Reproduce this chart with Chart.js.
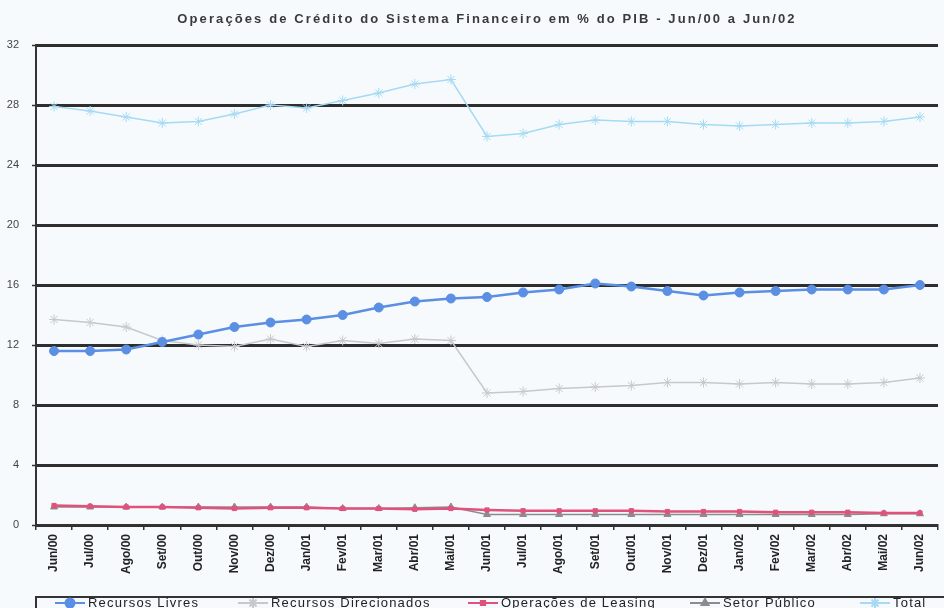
<!DOCTYPE html>
<html>
<head>
<meta charset="utf-8">
<script src="https://cdn.jsdelivr.net/npm/chart.js@4.4.0/dist/chart.umd.min.js"></script>
<style>
  html, body { margin: 0; padding: 0; background: #f6fafd; }
  #wrap { width: 944px; height: 608px; position: relative; }
</style>
</head>
<body>
<div id="wrap"><canvas id="chart"></canvas></div>
<script>
const labels = ['Jun/00','Jul/00','Ago/00','Set/00','Out/00','Nov/00','Dez/00','Jan/01','Fev/01','Mar/01','Abr/01','Mai/01',
                'Jun/01','Jul/01','Ago/01','Set/01','Out/01','Nov/01','Dez/01','Jan/02','Fev/02','Mar/02','Abr/02','Mai/02','Jun/02'];
const recursosLivres = [11.6,11.6,11.7,12.2,12.7,13.2,13.5,13.7,14.0,14.5,14.9,15.1,15.2,15.5,15.7,16.1,15.9,15.6,15.3,15.5,15.6,15.7,15.7,15.7,16.0];
const recursosDirecionados = [13.7,13.5,13.2,12.3,12.0,11.9,12.4,11.9,12.3,12.1,12.4,12.3,8.8,8.9,9.1,9.2,9.3,9.5,9.5,9.4,9.5,9.4,9.4,9.5,9.8];
const leasing = [1.3,1.25,1.2,1.2,1.15,1.1,1.15,1.15,1.1,1.1,1.05,1.1,1.0,0.95,0.95,0.95,0.95,0.9,0.9,0.9,0.85,0.85,0.85,0.8,0.8];
const setorPublico = [1.2,1.2,1.2,1.2,1.2,1.2,1.2,1.2,1.1,1.1,1.15,1.2,0.7,0.7,0.7,0.7,0.7,0.7,0.7,0.7,0.7,0.7,0.7,0.75,0.75];
const total = [27.9,27.6,27.2,26.8,26.9,27.4,28.0,27.8,28.3,28.8,29.4,29.7,25.9,26.1,26.7,27.0,26.9,26.9,26.7,26.6,26.7,26.8,26.8,26.9,27.2];
const yTicks = [0,4,8,12,16,20,24,28,32];
const title = 'Operações de Crédito do Sistema Financeiro em % do PIB - Jun/00 a Jun/02';

// title + boxed legend drawn by hand, like the scanned original
const decor = {
    id: 'decor',
    beforeDraw(chart) {
        const ctx = chart.ctx;
        ctx.save();
        ctx.fillStyle = '#f6fafd';
        ctx.fillRect(0, 0, chart.width, chart.height);
        ctx.restore();
    },
    afterDraw(chart) {
        const ctx = chart.ctx;
        const area = chart.chartArea;
        ctx.save();
        ctx.fillStyle = '#3a3a3a';
        ctx.font = 'bold 13px "Liberation Sans", Arial, sans-serif';
        ctx.letterSpacing = '2.1px';
        ctx.textAlign = 'center';
        ctx.textBaseline = 'middle';
        ctx.fillText(title, (area.left + area.right) / 2, 19);

        // legend box
        const top = 597;
        ctx.strokeStyle = '#333';
        ctx.lineWidth = 2;
        ctx.strokeRect(area.left, top, chart.width - area.left + 5, 30);

        const starts = [55, 238, 468, 690, 860];
        ctx.font = '13px "Liberation Sans", Arial, sans-serif';
        ctx.letterSpacing = '1.2px';
        ctx.textAlign = 'left';
        chart.data.datasets.forEach((ds, i) => {
            const x = starts[i], y = top + 6;
            ctx.strokeStyle = ds.borderColor;
            ctx.fillStyle = ds.pointBackgroundColor;
            ctx.lineWidth = 2;
            ctx.beginPath();
            ctx.moveTo(x, y);
            ctx.lineTo(x + 30, y);
            ctx.stroke();
            Chart.helpers.drawPoint(ctx, {
                pointStyle: ds.pointStyle, radius: ds.pointRadius, borderWidth: 1, rotation: 0
            }, x + 15, y);
            ctx.fillStyle = '#222';
            ctx.fillText(ds.label, x + 33, y);
        });
        ctx.restore();
    }
};

const mk = (label, data, color, style, radius, width) => ({
    label: label,
    data: data,
    borderColor: color,
    backgroundColor: color,
    pointBackgroundColor: color,
    pointBorderColor: color,
    pointStyle: style,
    pointRadius: radius,
    pointBorderWidth: 1,
    borderWidth: width,
    tension: 0,
    fill: false
});

const datasets = [
    mk('Recursos Livres', recursosLivres, '#5b8fe3', 'circle', 4.5, 2.5),
    mk('Recursos Direcionados', recursosDirecionados, '#c6c8cc', 'star', 5, 1.5),
    mk('Operações de Leasing', leasing, '#e0527c', 'rect', 3, 2.5),
    mk('Setor Público', setorPublico, '#8c8c8c', 'triangle', 4, 1.5),
    mk('Total', total, '#a6daf3', 'star', 5, 1.5)
];

new Chart(document.getElementById('chart'), {
    type: 'line',
    data: { labels: labels, datasets: datasets },
    plugins: [decor],
    options: {
        responsive: true,
        maintainAspectRatio: false,
        animation: false,
        layout: { padding: { top: 45, right: 0, bottom: 11, left: 0 } },
        plugins: {
            legend: { display: false },
            title: { display: false },
            tooltip: { enabled: false }
        },
        scales: {
            x: {
                offset: true,
                grid: {
                    offset: true,
                    drawOnChartArea: false,
                    drawTicks: true,
                    tickLength: 5,
                    color: '#333',
                    lineWidth: 1.5
                },
                border: { color: '#333', width: 2 },
                ticks: {
                    autoSkip: false,
                    minRotation: 90,
                    maxRotation: 90,
                    padding: 4,
                    color: '#222',
                    font: { family: '"Liberation Sans", Arial, sans-serif', size: 12, weight: 'bold' }
                },
                afterFit: s => { s.height = 72; s.paddingRight = 0; }
            },
            y: {
                min: 0,
                max: 32,
                afterBuildTicks: s => { s.ticks = yTicks.map(v => ({ value: v })); },
                grid: {
                    color: '#2e2e2e',
                    lineWidth: 3,
                    drawTicks: true,
                    tickLength: 4,
                    tickColor: '#333',
                    tickWidth: 1.5
                },
                border: { color: '#333', width: 2 },
                ticks: {
                    padding: 13,
                    color: '#444',
                    font: { family: '"Liberation Sans", Arial, sans-serif', size: 11 }
                },
                afterFit: s => { s.width = 36; }
            }
        }
    }
});
</script>
</body>
</html>
